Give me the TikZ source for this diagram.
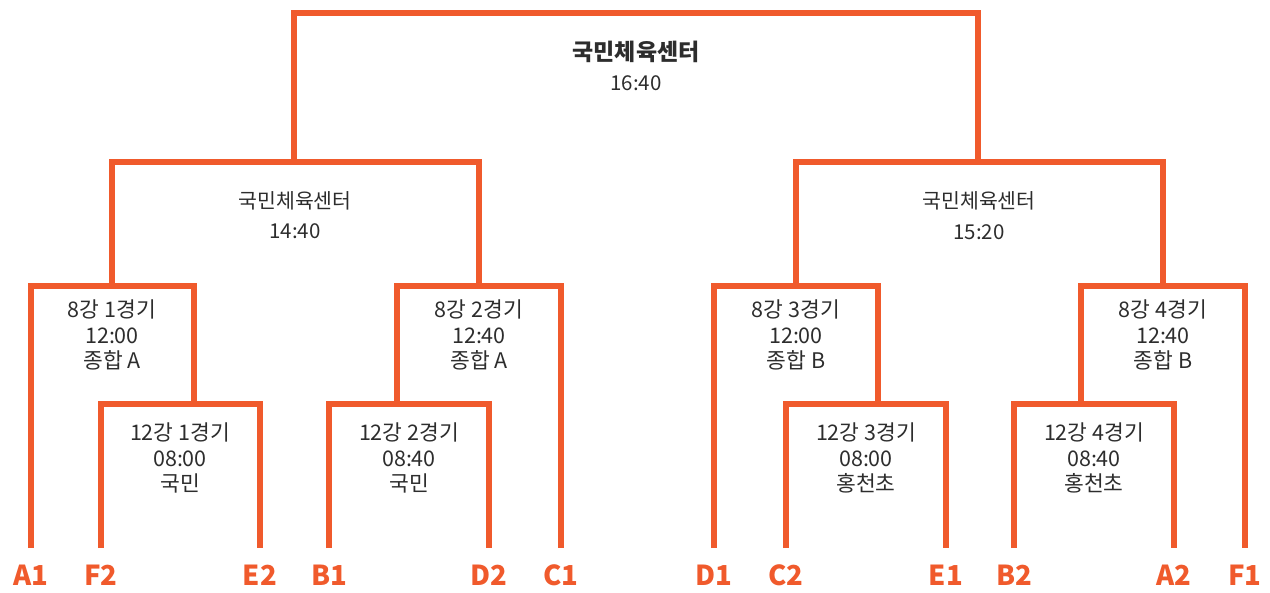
\documentclass[tikz,border=0pt]{standalone}
\usepackage{fontspec}
\setmainfont{Noto Sans CJK KR}
\definecolor{br}{RGB}{240,90,44}
\definecolor{tx}{RGB}{45,45,45}
\begin{document}
\begin{tikzpicture}[x=1pt,y=-1pt,
  bracket/.style={draw=br, line width=5.8pt, line join=miter},
  info/.style={align=center, text=tx, font=\fontsize{21.5}{25.5}\selectfont, inner sep=0pt},
  semi/.style={text=tx, font=\fontsize{20.5}{24}\selectfont, inner sep=0pt},
  titl/.style={text=tx, font=\fontsize{23}{26}\selectfont\bfseries, inner sep=0pt},
  seed/.style={text=br, font=\fontsize{27.5}{30}\selectfont\bfseries, inner sep=0pt}]
\useasboundingbox (0,0) rectangle (1270,593);

% leaf tops
\coordinate (lA1) at (31,548);
\coordinate (lF2) at (101,548);
\coordinate (lE2) at (260,548);
\coordinate (lB1) at (329,548);
\coordinate (lD2) at (489,548);
\coordinate (lC1) at (561,548);
\coordinate (lD1) at (714,548);
\coordinate (lC2) at (786,548);
\coordinate (lE1) at (946,548);
\coordinate (lB2) at (1014,548);
\coordinate (lA2) at (1174,548);
\coordinate (lF1) at (1245,548);

% junctions
\coordinate (q1) at (194,404);
\coordinate (q2) at (397,404);
\coordinate (q3) at (878,404);
\coordinate (q4) at (1081,404);
\coordinate (m1) at (112,286);
\coordinate (m2) at (479,286);
\coordinate (m3) at (796,286);
\coordinate (m4) at (1163,286);
\coordinate (s1) at (294,162);
\coordinate (s2) at (978,162);
\coordinate (fin) at (636,13);

% brackets
\draw[bracket] (lF2) |- (q1) -| (lE2);
\draw[bracket] (lB1) |- (q2) -| (lD2);
\draw[bracket] (lC2) |- (q3) -| (lE1);
\draw[bracket] (lB2) |- (q4) -| (lA2);
\draw[bracket] (lA1) |- (m1) -| (q1);
\draw[bracket] (q2) |- (m2) -| (lC1);
\draw[bracket] (lD1) |- (m3) -| (q3);
\draw[bracket] (q4) |- (m4) -| (lF1);
\draw[bracket] (m1) |- (s1) -| (m2);
\draw[bracket] (m3) |- (s2) -| (m4);
\draw[bracket] (s1) |- (fin) -| (s2);

% seed labels
\node[seed] (A1) at (31,575) {A1};
\node[seed] (F2) at (101,575) {F2};
\node[seed] (E2) at (260,575) {E2};
\node[seed] (B1) at (329,575) {B1};
\node[seed] (D2) at (489,575) {D2};
\node[seed] (C1) at (561,575) {C1};
\node[seed] (D1) at (714,575) {D1};
\node[seed] (C2) at (786,575) {C2};
\node[seed] (E1) at (946,575) {E1};
\node[seed] (B2) at (1014,575) {B2};
\node[seed] (A2) at (1174,575) {A2};
\node[seed] (F1) at (1245,575) {F1};

% match texts
\node[info] (t8a) at (112,335) {8강 1경기\\12:00\\종합 A};
\node[info] (t8b) at (479,335) {8강 2경기\\12:40\\종합 A};
\node[info] (t8c) at (796,335) {8강 3경기\\12:00\\종합 B};
\node[info] (t8d) at (1163,335) {8강 4경기\\12:40\\종합 B};
\node[info] (t12a) at (180,458) {12강 1경기\\08:00\\국민};
\node[info] (t12b) at (409,458) {12강 2경기\\08:40\\국민};
\node[info] (t12c) at (866,458) {12강 3경기\\08:00\\홍천초};
\node[info] (t12d) at (1094,458) {12강 4경기\\08:40\\홍천초};

% semifinals
\node[semi] (sn1) at (295,201) {국민체육센터};
\node[semi] (st1) at (295,231) {14:40};
\node[semi] (sn2) at (979,201) {국민체육센터};
\node[semi] (st2) at (979,232) {15:20};

% final
\node[titl] (fn) at (636,52) {국민체육센터};
\node[semi] (ft) at (636,83) {16:40};
\end{tikzpicture}
\end{document}
